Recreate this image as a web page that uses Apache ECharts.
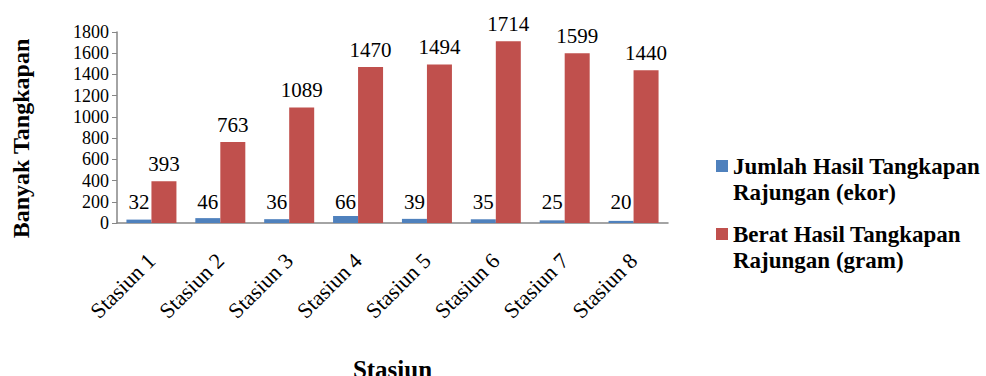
<!DOCTYPE html>
<html>
<head>
<meta charset="utf-8">
<script src="https://cdn.jsdelivr.net/npm/echarts@6/dist/echarts.min.js"></script>
<style>
  html, body { margin: 0; padding: 0; background: #fff; }
  #chart { width: 986px; height: 376px; }
</style>
</head>
<body>
<div id="chart"></div>
<script>
// Catch per station: count (ekor) and weight (gram)
const stations = ['Stasiun 1', 'Stasiun 2', 'Stasiun 3', 'Stasiun 4', 'Stasiun 5', 'Stasiun 6', 'Stasiun 7', 'Stasiun 8'];
const jumlahEkor = [32, 46, 36, 66, 39, 35, 25, 20];
const beratGram = [393, 763, 1089, 1470, 1494, 1714, 1599, 1440];
const seriesNames = ['Jumlah Hasil Tangkapan\nRajungan (ekor)', 'Berat Hasil Tangkapan\nRajungan (gram)'];

const serif = 'Liberation Serif';
const axisGrey = '#868686';

const chart = echarts.init(document.getElementById('chart'), null, { renderer: 'svg' });
chart.setOption({
  animation: false,
  textStyle: { fontFamily: serif, color: '#000' },
  grid: { left: 117, right: 318, top: 32, bottom: 153, containLabel: false, outerBoundsMode: 'none' },
  legend: {
    orient: 'vertical',
    left: 711,
    top: 122,
    itemWidth: 12,
    itemHeight: 12,
    itemGap: -10,
    icon: 'rect',
    data: seriesNames,
    // leading blank line keeps the marker level with the first text line
    formatter: function (name) { return ' \n' + name; },
    textStyle: {
      fontFamily: serif,
      fontSize: 23,
      fontWeight: 'bold',
      color: '#000',
      lineHeight: 26
    }
  },
  xAxis: {
    type: 'category',
    data: stations,
    name: 'Stasiun',
    nameLocation: 'middle',
    nameGap: 134,
    nameTextStyle: { fontFamily: serif, fontSize: 25, fontWeight: 'bold', color: '#000' },
    axisLine: { lineStyle: { color: axisGrey, width: 1.5 } },
    axisTick: { show: false },
    axisLabel: { rotate: 45, fontFamily: serif, fontSize: 22, color: '#000', margin: 34 }
  },
  yAxis: {
    type: 'value',
    min: 0,
    max: 1800,
    interval: 200,
    name: 'Banyak Tangkapan',
    nameLocation: 'middle',
    nameGap: 84,
    nameTextStyle: { fontFamily: serif, fontSize: 24, fontWeight: 'bold', color: '#000', padding: [0, 22, 0, 0] },
    splitLine: { show: false },
    axisLine: { show: true, lineStyle: { color: axisGrey, width: 1.5 } },
    axisTick: { show: true, length: 5, lineStyle: { color: axisGrey } },
    axisLabel: {
      fontFamily: serif, fontSize: 18, color: '#000', margin: 8,
      formatter: function (v) { return String(v); }
    }
  },
  series: [
    {
      name: seriesNames[0],
      type: 'bar',
      data: jumlahEkor,
      barWidth: 25,
      barGap: '0%',
      itemStyle: { color: '#4F81BD' },
      label: {
        show: true,
        position: 'insideBottom',
        distance: 11,
        fontFamily: serif,
        fontSize: 21,
        color: '#000'
      }
    },
    {
      name: seriesNames[1],
      type: 'bar',
      data: beratGram,
      barWidth: 25,
      barGap: '0%',
      itemStyle: { color: '#C0504D' },
      label: {
        show: true,
        position: 'top',
        distance: 7,
        fontFamily: serif,
        fontSize: 21,
        color: '#000'
      }
    }
  ]
});
</script>
</body>
</html>
